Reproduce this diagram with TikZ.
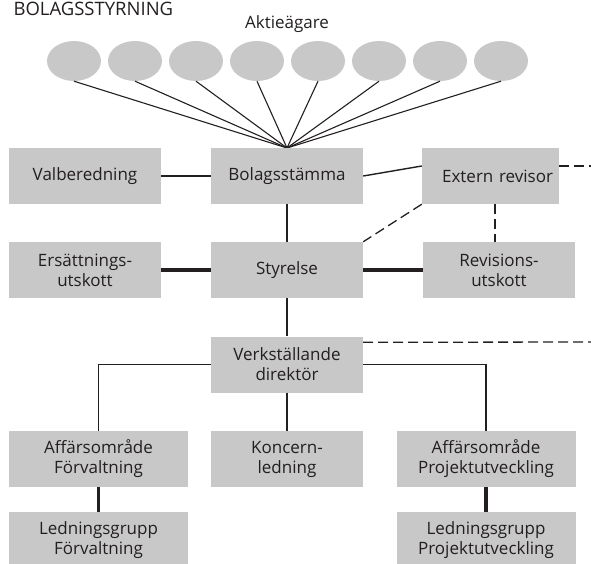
\documentclass[tikz,border=0pt]{standalone}
\usepackage{fontspec}
\setmainfont{Open Sans}
\usetikzlibrary{calc,shapes.geometric}
\definecolor{boxgray}{RGB}{200,200,201}
\definecolor{ink}{RGB}{35,31,32}

\begin{document}
\begin{tikzpicture}[x=1pt,y=-1pt,font=\fontsize{17}{20}\selectfont,
    box/.style={fill=boxgray,text=ink,minimum width=152,minimum height=56,inner sep=0,align=center},
    widebox/.style={box,minimum width=179},
    owner/.style={ellipse,fill=boxgray,minimum width=54,minimum height=40,inner sep=0},
    thinline/.style={draw=ink,line width=1.1},
    midline/.style={draw=ink,line width=2},
    fatline/.style={draw=ink,line width=3.2},
    dashline/.style={draw=ink,line width=1.3,dash pattern=on 10 off 5}]
  \useasboundingbox (0,0) rectangle (591,563);
  \node[anchor=base west,text=ink,font=\fontsize{18.5}{20}\selectfont] (title) at (10,15) {BOLAGSSTYRNING};
  \node[anchor=base,text=ink] (aktie) at (287,28) {Aktieägare};
  \foreach \i in {1,...,8} {
    \node[owner] (ag\i) at (74+61*\i-61,61) {};
    \draw[thinline] (ag\i.south) -- (287,148);
  }
  % rows of boxes
  \node[box] (valb) at (85,176) {Valberedning};
  \node[box] (stamma) at (287,176) {Bolagsstämma};
  \node[box,minimum width=137,text width=125,inner xsep=6,align=right] (extrev) at (490.5,176) {Extern revisor};
  \node[box] (ersutsk) at (85,270) {Ersättnings-\\utskott};
  \node[box] (styr) at (287,270) {Styrelse};
  \node[box] (revutsk) at (499,270) {Revisions-\\utskott};
  \node[box] (vd) at (287,364.5) {Verkställande\\direktör};
  \node[widebox] (afForv) at (98.5,459) {Affärsområde\\Förvaltning};
  \node[box] (koncern) at (287,459) {Koncern-\\ledning};
  \node[widebox] (afProj) at (486,459) {Affärsområde\\Projektutveckling};
  \node[widebox] (lgForv) at (98.5,540) {Ledningsgrupp\\Förvaltning};
  \node[widebox] (lgProj) at (486,540) {Ledningsgrupp\\Projektutveckling};
  \coordinate (rimA) at (591,166);
  \coordinate (rimB) at (591,342);

  \draw[midline] (valb) -- (stamma);
  \draw[thinline,line width=1.4] (stamma.east) -- ($(extrev.west)+(0,-10)$);
  \draw[dashline] ($(extrev.east)+(0,-10)$) -- (rimA);
  \draw[dashline] (extrev.south west) -- (styr.north east);
  \draw[dashline] ($(extrev.south)+(4.5,0)$) coordinate (d1) -- (d1 |- revutsk.north);
  \draw[midline] (stamma) -- (styr);
  \draw[fatline] (ersutsk) -- (styr);
  \draw[fatline] (styr) -- (revutsk);
  \draw[midline] (styr) -- (vd);
  \draw[dashline] ($(vd.north east)+(0,6)$) -- (rimB);
  \draw[thinline,line width=1.6] (vd.west) -| (afForv.north);
  \draw[thinline,line width=1.6] (vd.east) -| (afProj.north);
  \draw[midline] (vd) -- (koncern);
  \draw[fatline] (afForv) -- (lgForv);
  \draw[fatline] (afProj) -- (lgProj);
\end{tikzpicture}
\end{document}
